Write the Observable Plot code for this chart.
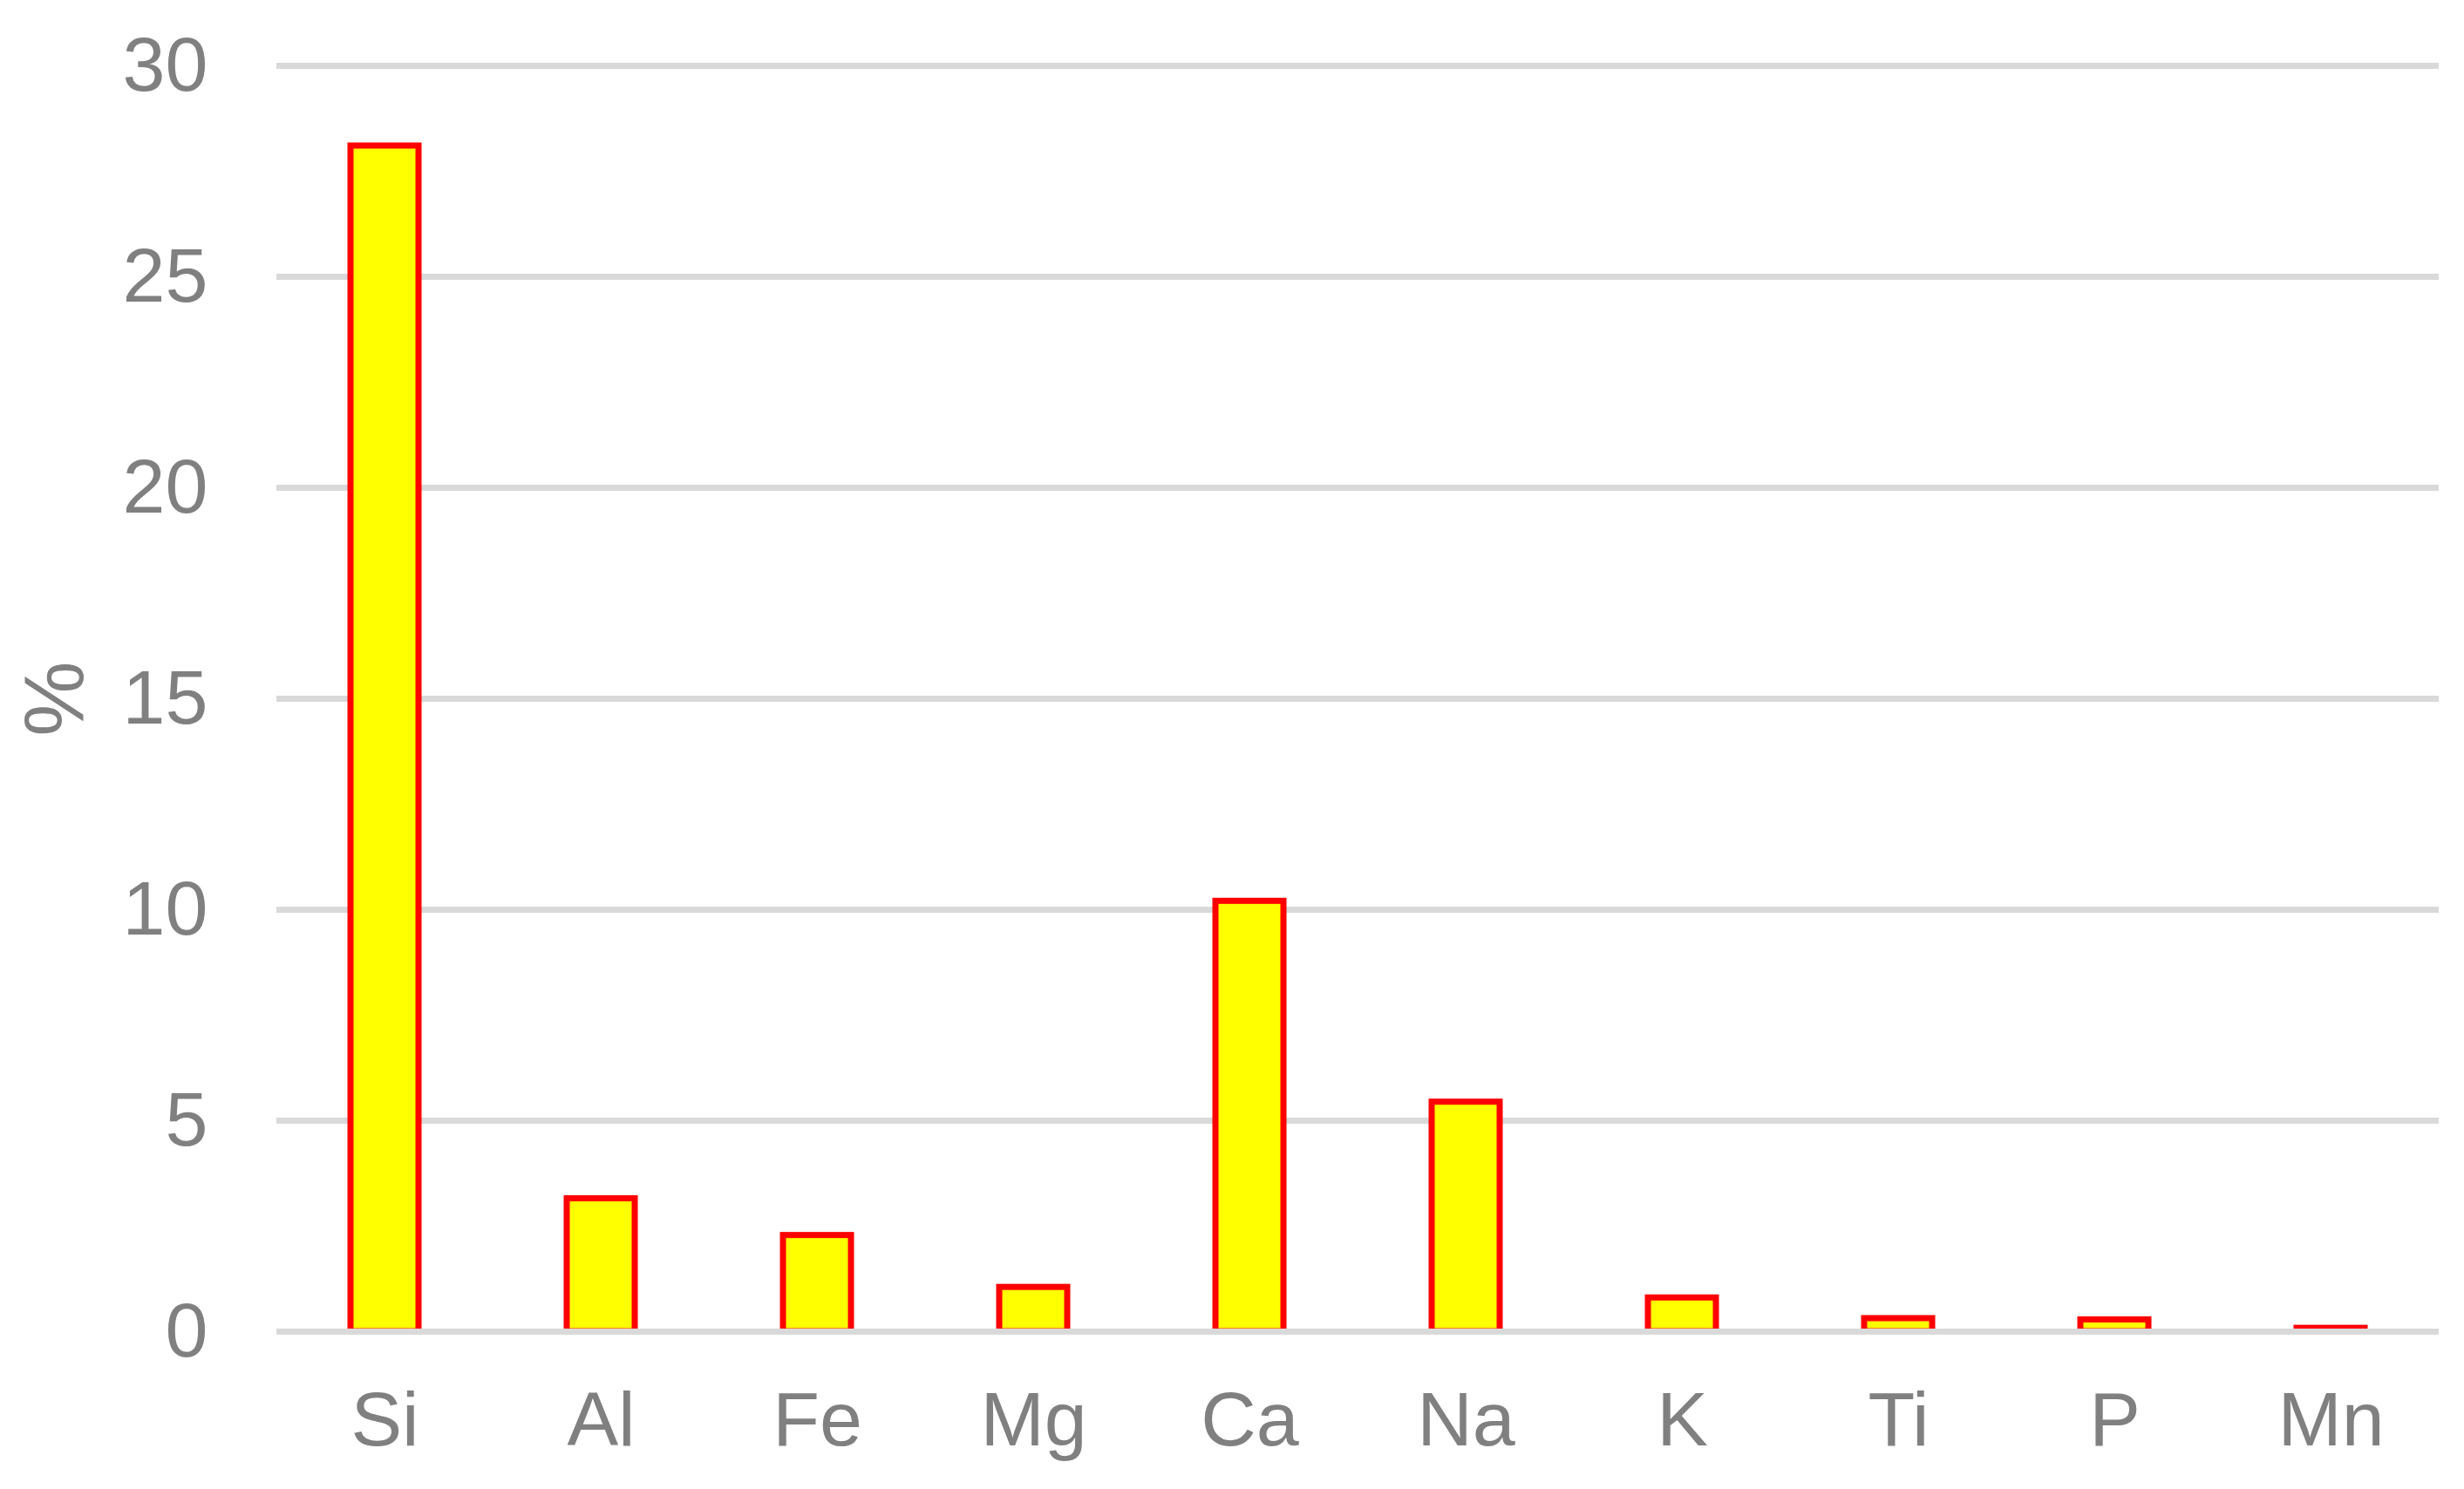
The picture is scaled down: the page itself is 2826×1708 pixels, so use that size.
<!DOCTYPE html>
<html>
<head>
<meta charset="utf-8">
<script src="https://cdn.jsdelivr.net/npm/d3@7"></script>
<script src="https://cdn.jsdelivr.net/npm/@observablehq/plot@0.6"></script>
<style>
  html, body { margin: 0; padding: 0; background: #ffffff; }
  #chart svg { display: block; }
</style>
</head>
<body>
<div id="chart"></div>
<script>
const elements = ["Si", "Al", "Fe", "Mg", "Ca", "Na", "K", "Ti", "P", "Mn"];
const percents = [28.1, 3.15, 2.28, 1.05, 10.2, 5.44, 0.8, 0.31, 0.28, 0.08];
const yTicks = [0, 5, 10, 15, 20, 25, 30];
const yLabel = "%";

const data = elements.map((el, i) => ({ el, v: percents[i] }));

const chart = Plot.plot({
  width: 2826,
  height: 1708,
  marginLeft: 317,
  marginRight: 29,
  marginTop: 75,
  marginBottom: 181,
  style: {
    fontFamily: "'Liberation Sans', Arial, sans-serif",
    fontSize: "88px",
    color: "#808080",
    background: "#ffffff"
  },
  x: { domain: elements, paddingInner: 0.685, paddingOuter: 0.3425, align: 0.5 },
  y: { domain: [0, 30] },
  marks: [
    Plot.ruleY(yTicks, { stroke: "#d9d9d9", strokeWidth: 7 }),
    Plot.barY(data, { x: "el", y: "v", fill: "#ffff00", stroke: "#ff0000", strokeWidth: 7 }),
    Plot.ruleY([0], { stroke: "#d9d9d9", strokeWidth: 7 }),
    Plot.axisX({ tickSize: 0, tickPadding: 68, label: null, fill: "#808080", fontSize: 88 }),
    Plot.axisY({ ticks: yTicks, tickSize: 0, tickPadding: 79, label: null, fill: "#808080", fontSize: 88 }),
    Plot.text([yLabel], { frameAnchor: "left", textAnchor: "middle", lineAnchor: "middle", rotate: -90, dx: -254, fill: "#808080", fontSize: 97 })
  ]
});

document.getElementById("chart").appendChild(chart);
</script>
</body>
</html>
